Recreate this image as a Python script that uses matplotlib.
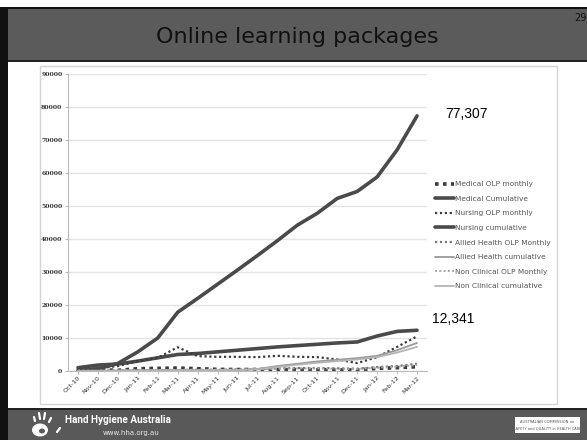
import matplotlib

matplotlib.use("Agg")
import matplotlib.pyplot as plt
from matplotlib.patches import Ellipse, Rectangle

months = ["Oct-10", "Nov-10", "Dec-10", "Jan-11", "Feb-11", "Mar-11", "Apr-11",
          "May-11", "Jun-11", "Jul-11", "Aug-11", "Sep-11", "Oct-11", "Nov-11",
          "Dec-11", "Jan-12", "Feb-12", "Mar-12"]

medical_monthly = [300, 400, 200, 700, 800, 900, 700, 500, 450, 450, 450, 400,
                   400, 350, 300, 800, 1000, 1300]
medical_cum = [1000, 1800, 2100, 3000, 4000, 5000, 5300, 5800, 6300, 6800, 7300,
               7700, 8100, 8500, 8800, 10600, 12000, 12341]
nursing_monthly = [500, 800, 1500, 3000, 4000, 7200, 4500, 4300, 4300, 4200, 4600,
                   4300, 4200, 3500, 2400, 4200, 7300, 10500]
nursing_cum = [200, 700, 2300, 5800, 10000, 17800, 22000, 26300, 30600, 35000,
               39500, 44200, 47800, 52300, 54400, 58800, 67000, 77307]
allied_monthly = [100, 150, 200, 200, 300, 300, 400, 400, 500, 600, 800, 900,
                  900, 800, 700, 1200, 1500, 2200]
allied_cum = [0, 0, 100, 200, 200, 300, 300, 300, 300, 600, 1500, 2200,
              2900, 3400, 3900, 4600, 6300, 8500]
nonclin_monthly = [100, 100, 150, 200, 250, 300, 300, 350, 400, 500, 700, 800,
                   800, 700, 600, 1000, 1300, 1800]
nonclin_cum = [0, 0, 100, 100, 200, 200, 200, 300, 300, 500, 1200, 1900,
               2500, 3000, 3500, 4200, 5600, 7300]

series = [
    ("Medical OLP monthly", medical_monthly, "#3c3c3c", (0, (1, 1.2)), 2.6),
    ("Medical Cumulative", medical_cum, "#4a4a4a", "-", 2.6),
    ("Nursing OLP monthly", nursing_monthly, "#3c3c3c", (0, (1, 1.2)), 1.6),
    ("Nursing cumulative", nursing_cum, "#4a4a4a", "-", 2.6),
    ("Allied Health OLP Monthly", allied_monthly, "#7a7a7a", (0, (1, 1.2)), 1.6),
    ("Allied Health cumulative", allied_cum, "#9a9a9a", "-", 1.3),
    ("Non Clinical OLP Monthly", nonclin_monthly, "#a8a8a8", (0, (1, 1.2)), 1.4),
    ("Non Clinical cumulative", nonclin_cum, "#b4b4b4", "-", 1.3),
]

W, H = 587, 440
fig = plt.figure(figsize=(W / 100, H / 100), dpi=100)
fig.patch.set_facecolor("white")


def box(x0, y0, x1, y1, z=-10, **kw):
    # rectangle in pixel coords, y measured from top
    fig.add_artist(Rectangle((x0 / W, 1 - y1 / H), (x1 - x0) / W, (y1 - y0) / H,
                             transform=fig.transFigure, zorder=z, **kw))


# slide frame
box(0, 7, 8, 440, facecolor="#111111", edgecolor="none")
box(8, 7, 587, 9, facecolor="#111111", edgecolor="none")
box(8, 9, 587, 60, facecolor="#5b5b5b", edgecolor="none")
box(8, 60, 587, 62, facecolor="#222222", edgecolor="none")
box(8, 408, 587, 410, facecolor="#222222", edgecolor="none")
box(8, 410, 587, 440, facecolor="#595959", edgecolor="none")
box(40, 66, 557, 404, facecolor="white", edgecolor="#d4d4d4", linewidth=1)

fig.text(297 / W, 1 - 37 / H, "Online learning packages", ha="center", va="center",
         fontsize=16, color="#111111", family="DejaVu Sans")
fig.text(587 / W, 1 - 18 / H, "29", ha="right", va="center", fontsize=7, color="#111111")

# footer
fig.text(65 / W, 1 - 420 / H, "Hand Hygiene Australia", ha="left", va="center",
         fontsize=7.2, color="white", family="Roboto", weight="bold")
fig.text(103 / W, 1 - 433 / H, "www.hha.org.au", ha="left", va="center",
         fontsize=5, color="#e8e8e8")
fig.add_artist(Ellipse((40 / W, 1 - 430 / H), 16 / W, 13 / H,
                       transform=fig.transFigure, facecolor="white", edgecolor="none"))
fig.add_artist(Ellipse((42 / W, 1 - 431 / H), 6 / W, 5 / H,
                       transform=fig.transFigure, facecolor="#595959", edgecolor="none"))
for x0, y0, x1, y1 in [(34, 417, 35, 421), (39, 413, 40, 419), (45, 413, 44, 419),
                       (51, 418, 49, 422), (60, 428, 57, 432)]:
    fig.add_artist(plt.Line2D([x0 / W, x1 / W], [1 - y0 / H, 1 - y1 / H],
                              transform=fig.transFigure, color="white", linewidth=1.6,
                              solid_capstyle="round"))
box(515, 417, 580, 433, z=1, facecolor="white", edgecolor="none")
fig.text(547 / W, 1 - 422 / H, "AUSTRALIAN COMMISSION on", ha="center", va="center",
         fontsize=2.6, color="#555555")
fig.text(547 / W, 1 - 428 / H, "SAFETY and QUALITY in HEALTH CARE", ha="center",
         va="center", fontsize=2.6, color="#555555")

# chart
ax = fig.add_axes([68 / W, (H - 371) / H, (427 - 68) / W, (371 - 74) / H])
ax.patch.set_alpha(0)
x = list(range(len(months)))
for label, vals, color, ls, lw in series:
    ax.plot(x, vals, color=color, linestyle=ls, linewidth=lw, label=label,
            solid_capstyle="round")

ax.set_xlim(-0.5, len(months) - 0.5)
ax.set_ylim(0, 90000)
ax.set_yticks(range(0, 90001, 10000))
ax.set_yticklabels([str(v) for v in range(0, 90001, 10000)], fontsize=4.4,
                   family="DejaVu Serif", weight="bold", color="#333333")
ax.set_xticks(x)
ax.set_xticklabels(months, rotation=45, ha="right", rotation_mode="anchor",
                   fontsize=4.6, color="#333333")
ax.grid(axis="y", color="#e4e4e4", linewidth=1)
ax.set_axisbelow(True)
for side in ("top", "right"):
    ax.spines[side].set_visible(False)
ax.spines["left"].set_color("#bbbbbb")
ax.spines["bottom"].set_color("#bbbbbb")
ax.tick_params(axis="y", length=2, color="#bbbbbb", pad=2)
ax.tick_params(axis="x", length=2, color="#bbbbbb", pad=1)

ax.annotate(f"{nursing_cum[-1]:,}", xy=(x[-1], nursing_cum[-1]), xytext=(20, 1),
            textcoords="offset points", fontsize=10, va="center",
            family="Liberation Sans")
ax.annotate(f"{medical_cum[-1]:,}", xy=(x[-1], medical_cum[-1]), xytext=(11, 8),
            textcoords="offset points", fontsize=10, va="center",
            family="Liberation Sans")

leg = fig.legend(loc="upper left", bbox_to_anchor=(432 / W, 1 - 178 / H),
                 frameon=False, fontsize=5.3, handlelength=2.6, handletextpad=0.1,
                 labelspacing=1.15, borderaxespad=0)
for t in leg.get_texts():
    t.set_color("#555555")

fig.savefig("out.png", dpi=100)
